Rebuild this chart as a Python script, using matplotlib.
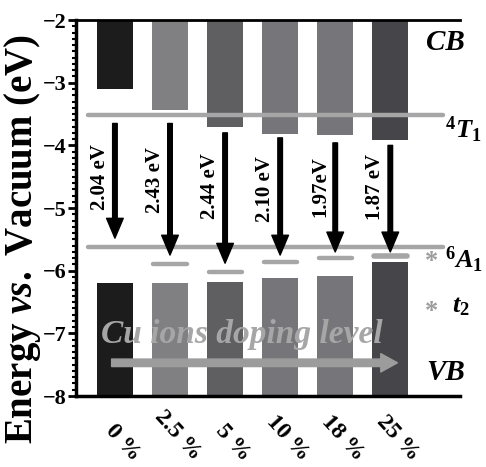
import numpy as np
import matplotlib.pyplot as plt
import matplotlib.transforms as mtransforms

plt.rcParams['font.family'] = 'Liberation Serif'
plt.rcParams['font.weight'] = 'bold'
plt.rcParams['mathtext.fontset'] = 'custom'
plt.rcParams['mathtext.rm'] = 'Liberation Serif:bold'
plt.rcParams['mathtext.it'] = 'Liberation Serif:italic:bold'
plt.rcParams['mathtext.bf'] = 'Liberation Serif:bold'

# data
doping = ['0 %', '2.5 %', '5 %', '10 %', '18 %', '25 %']
cb_edge = [-3.10, -3.44, -3.70, -3.82, -3.83, -3.91]
vb_edge = [-6.19, -6.20, -6.18, -6.12, -6.08, -5.86]
t2_level = [np.nan, -5.89, -6.02, -5.86, -5.80, -5.77]
gap_text = ['2.04 eV', '2.43 eV', '2.44 eV', '2.10 eV', '1.97eV', '1.87 eV']
arrow_top = [-3.65, -3.65, -3.80, -3.88, -3.96, -4.00]
arrow_tip = [-5.48, -5.75, -5.88, -5.75, -5.70, -5.70]
label_y = [-4.50, -4.55, -4.65, -4.70, -4.65, -4.67]
T1_level = -3.52
A1_level = -5.62
bar_colors = ['#1c1c1c', '#808083', '#5f5f62', '#76767a', '#76767a', '#46464a']

x = np.arange(len(doping))
bw = 0.655

fig = plt.figure(figsize=(4.86, 4.67), dpi=100)
ax = fig.add_axes([0.156, 0.152, 0.791, 0.805])

# conduction band and valence band bars
ax.bar(x, np.array(cb_edge) + 2, bottom=-2, width=bw, color=bar_colors)
ax.bar(x, np.array(vb_edge) + 8, bottom=-8, width=bw, color=bar_colors)

# 4T1 and 6A1 levels
ax.plot([-0.49, 5.96], [T1_level, T1_level], color='#a6a6a6', lw=3.2,
        solid_capstyle='round', zorder=3)
ax.plot([-0.49, 5.96], [A1_level, A1_level], color='#a6a6a6', lw=3.2,
        solid_capstyle='round', zorder=3)

# t2 levels for doped samples
for i, lv in enumerate(t2_level):
    if np.isnan(lv):
        continue
    ax.plot([x[i] - 0.3, x[i] + 0.3], [lv, lv], color='#a6a6a6',
            lw=4.0 if i == 5 else 3.2, solid_capstyle='round', zorder=3)

# transitions
for i in range(len(x)):
    ax.annotate('', xy=(x[i], arrow_tip[i]), xytext=(x[i], arrow_top[i]),
                arrowprops=dict(arrowstyle='simple,head_length=0.95,head_width=0.8,tail_width=0.22',
                                color='black', mutation_scale=15,
                                shrinkA=0, shrinkB=0), zorder=4)
    ax.text(x[i] - 0.27, label_y[i], gap_text[i], rotation=90, ha='center',
            va='center', fontsize=15, fontweight='bold')

# doping level arrow and text
ax.annotate('', xy=(5.13, -7.47), xytext=(-0.06, -7.47),
            arrowprops=dict(arrowstyle='simple,head_length=1.0,head_width=1.1,tail_width=0.45',
                            color='#9c9c9c', mutation_scale=12,
                            shrinkA=0, shrinkB=0), zorder=4)
ax.text(2.3, -7.02, 'Cu ions doping level', color='#a6a6a6', fontsize=24,
        style='italic', fontweight='bold', ha='center', va='center', zorder=5)

# band labels on the right
ax.text(6.0, -2.35, 'CB', style='italic', fontsize=21, ha='center', va='center')
ax.text(6.0, -7.63, 'VB', style='italic', fontsize=21, ha='center', va='center')
ax.text(6.0, -3.88, r'$^{4}T_{\mathit{1}}$', fontsize=19, ha='left',
        va='baseline', clip_on=False)
ax.text(6.0, -5.96, r'$^{6}A_{\mathit{1}}$', fontsize=19, ha='left',
        va='baseline', clip_on=False)
ax.text(6.12, -6.66, r'$t_{\mathit{2}}$', fontsize=19, ha='left',
        va='baseline', clip_on=False)
ax.text(5.75, -5.85, '*', color='#9c9c9c', fontsize=19, ha='center', va='center')
ax.text(5.75, -6.65, '*', color='#9c9c9c', fontsize=19, ha='center', va='center')

ax.set_xlim(-0.71, 6.27)
ax.set_ylim(-8, -2)
ax.set_yticks(np.arange(-8, -1, 1))
ax.set_yticks(np.arange(-8, -2, 0.1), minor=True)
ax.tick_params(axis='y', which='major', length=6, width=2, labelsize=16, pad=1)
ax.tick_params(axis='y', which='minor', length=3, width=1.5)
ax.set_xticks(x)
ax.set_xticklabels([])
ax.tick_params(axis='x', length=0)
for lab in ax.get_yticklabels():
    lab.set_fontweight('bold')

# rotated doping labels, bottoms aligned near the lower edge
trans = mtransforms.blended_transform_factory(ax.transData, fig.transFigure)
for i, lab in enumerate(doping):
    ax.text(x[i] + 0.14, 0.005, lab, rotation=-48, ha='center', va='bottom',
            fontsize=17, fontweight='bold', transform=trans, clip_on=False)

ax.spines['right'].set_visible(False)
ax.spines['left'].set_linewidth(2.5)
ax.spines['bottom'].set_linewidth(2.5)
ax.spines['top'].set_linewidth(2)

ax.set_ylabel(r'Energy $\mathit{vs.}$ Vacuum (eV)', fontsize=28,
              fontweight='bold')
ax.yaxis.set_label_coords(-0.086, 0.418)

fig.savefig('out.png', dpi=100)
